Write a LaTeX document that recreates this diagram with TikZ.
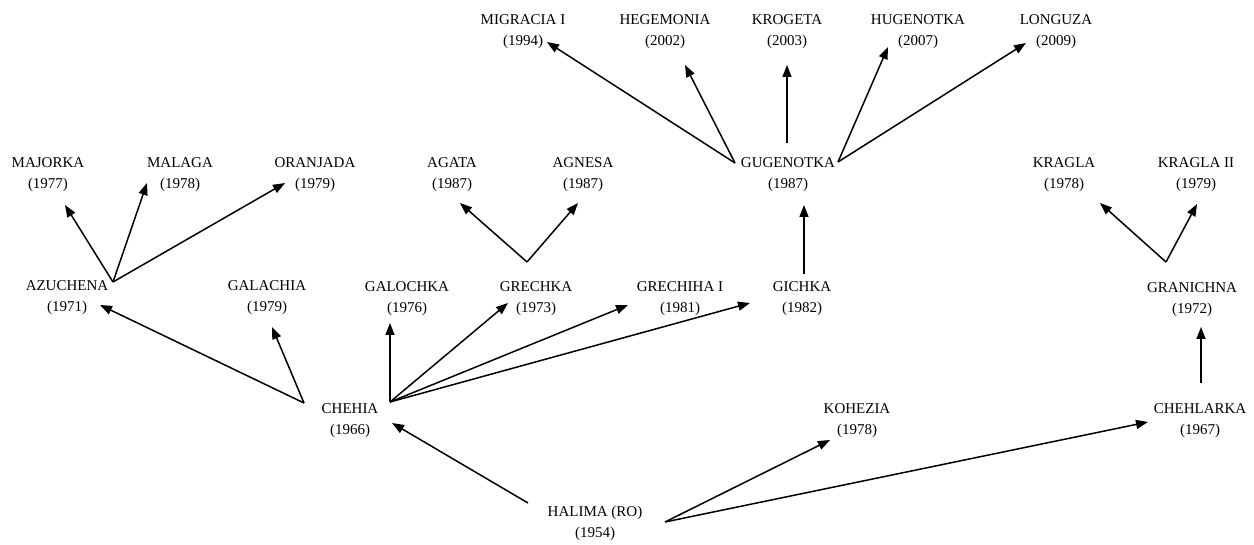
\documentclass[tikz,border=0pt]{standalone}
\usepackage{fontspec}
\setmainfont{Liberation Serif}
\usepackage{tikz}
\usetikzlibrary{arrows.meta, calc}

\begin{document}
\begin{tikzpicture}[x=1pt, y=1pt,
    cultivar/.style={align=center, inner sep=0pt, font=\fontsize{15}{21}\selectfont},
    descent/.style={-{Triangle[length=12pt, width=9pt]}, line width=1.5pt}]
  \useasboundingbox (0,0) rectangle (1254,545);

  % founder and first generation
  \node[cultivar] (halima)    at (595,22)  {HALIMA (RO)\\(1954)};
  \node[cultivar] (chehia)    at (350,124) {CHEHIA\\(1966)};
  \node[cultivar] (kohezia)   at (857,124) {KOHEZIA\\(1978)};
  \node[cultivar] (chehlarka) at (1200,124) {CHEHLARKA\\(1967)};

  % second generation
  \node[cultivar] (azuchena)  at (67,247)  {AZUCHENA\\(1971)};
  \node[cultivar] (galachia)  at (267,247) {GALACHIA\\(1979)};
  \node[cultivar] (galochka)  at (407,246) {GALOCHKA\\(1976)};
  \node[cultivar] (grechka)   at (536,246) {GRECHKA\\(1973)};
  \node[cultivar] (grechiha)  at (680,246) {GRECHIHA I\\(1981)};
  \node[cultivar] (gichka)    at (802,246) {GICHKA\\(1982)};
  \node[cultivar] (granichna) at (1192,245) {GRANICHNA\\(1972)};

  % third generation
  \node[cultivar] (majorka)   at (48,370)   {MAJORKA\\(1977)};
  \node[cultivar] (malaga)    at (180,370)  {MALAGA\\(1978)};
  \node[cultivar] (oranjada)  at (315,370)  {ORANJADA\\(1979)};
  \node[cultivar] (agata)     at (452,370)  {AGATA\\(1987)};
  \node[cultivar] (agnesa)    at (583,370)  {AGNESA\\(1987)};
  \node[cultivar] (gugenotka) at (788,370)  {GUGENOTKA\\(1987)};
  \node[cultivar] (kragla)    at (1064,370) {KRAGLA\\(1978)};
  \node[cultivar] (kraglaii)  at (1196,370) {KRAGLA II\\(1979)};

  % fourth generation
  \node[cultivar] (migracia)  at (523,513)  {MIGRACIA I\\(1994)};
  \node[cultivar] (hegemonia) at (665,513)  {HEGEMONIA\\(2002)};
  \node[cultivar] (krogeta)   at (787,513)  {KROGETA\\(2003)};
  \node[cultivar] (hugenotka) at (918,513)  {HUGENOTKA\\(2007)};
  \node[cultivar] (longuza)   at (1056,513) {LONGUZA\\(2009)};

  % arrows
  \draw[descent] ($(halima)+(-67,20)$) -- ($(chehia)+(42,-2)$);
  \draw[descent] ($(halima)+(70,1)$) -- ($(kohezia)+(-27,-19)$);
  \draw[descent] ($(halima)+(70,1)$) -- ($(chehlarka)+(-52,-1)$);

  \draw[descent] ($(chehia)+(-46,18)$) -- ($(azuchena)+(33,-7)$);
  \draw[descent] ($(chehia)+(-46,18)$) -- ($(galachia)+(5,-29)$);
  \draw[descent] ($(chehia)+(40,19)$) -- ($(galochka)+(-17,-24)$);
  \draw[descent] ($(chehia)+(40,19)$) -- ($(grechka)+(-28,-4)$);
  \draw[descent] ($(chehia)+(40,19)$) -- ($(grechiha)+(-52,-6)$);
  \draw[descent] ($(chehia)+(40,19)$) -- ($(gichka)+(-52,-4)$);
  \draw[descent] ($(chehlarka)+(1,38)$) -- ($(granichna)+(9,-27)$);

  \draw[descent] ($(azuchena)+(46,16)$) -- ($(majorka)+(17,-30)$);
  \draw[descent] ($(azuchena)+(46,16)$) -- ($(malaga)+(-33,-8)$);
  \draw[descent] ($(azuchena)+(46,16)$) -- ($(oranjada)+(-30,-8)$);
  \draw[descent] ($(grechka)+(-9,37)$) -- ($(agata)+(8,-28)$);
  \draw[descent] ($(grechka)+(-9,37)$) -- ($(agnesa)+(-5,-28)$);
  \draw[descent] ($(gichka)+(2,25)$) -- ($(gugenotka)+(16,-30)$);
  \draw[descent] ($(granichna)+(-26,38)$) -- ($(kragla)+(36,-28)$);
  \draw[descent] ($(granichna)+(-26,38)$) -- ($(kraglaii)+(1,-29)$);

  \draw[descent] ($(gugenotka)+(-53,12)$) -- ($(migracia)+(24,-10)$);
  \draw[descent] ($(gugenotka)+(-53,12)$) -- ($(hegemonia)+(20,-33)$);
  \draw[descent] ($(gugenotka)+(-1,32)$) -- ($(krogeta)+(0,-33)$);
  \draw[descent] ($(gugenotka)+(50,13)$) -- ($(hugenotka)+(-30,-15)$);
  \draw[descent] ($(gugenotka)+(50,13)$) -- ($(longuza)+(-30,-11)$);
\end{tikzpicture}
\end{document}
